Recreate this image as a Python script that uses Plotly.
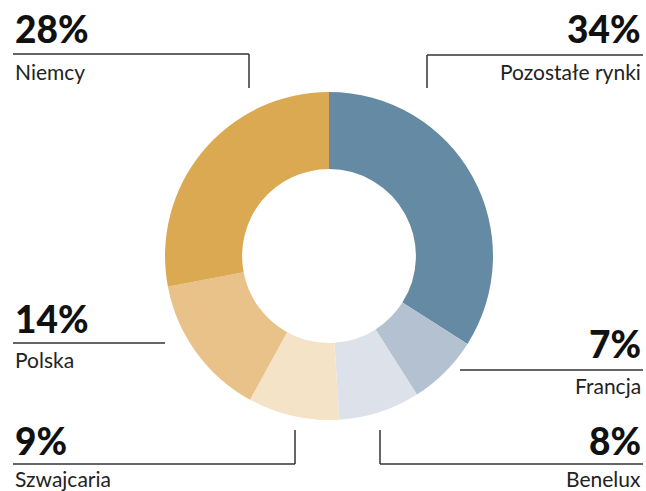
import plotly.graph_objects as go

labels = ["Pozostałe rynki", "Francja", "Benelux", "Szwajcaria", "Polska", "Niemcy"]
values = [34, 7, 8, 9, 14, 28]
colors = ["#648BA3", "#B3C1D1", "#DDE2EA", "#F5E3C8", "#E9C289", "#DBA952"]

W, H = 646, 491
cx, cy, R = 329, 256, 164

fig = go.Figure()
fig.add_trace(go.Pie(
    labels=labels, values=values, sort=False, direction="clockwise", rotation=0,
    hole=0.53, textinfo="none", hoverinfo="label+percent",
    marker=dict(colors=colors, line=dict(width=0)),
    domain=dict(x=[(cx - R) / W, (cx + R) / W], y=[1 - (cy + R) / H, 1 - (cy - R) / H]),
    showlegend=False,
))

# label layout: (label, pct text, side, text x, pct center y, name center y, line y, line x0, x1, vertical (x, y_end) or None)
label_specs = [
    ("Niemcy", "28%", "left", 13, 28, 71, 54, 13, 249, (249, 88)),
    ("Pozostałe rynki", "34%", "right", 643, 28, 71, 55, 427, 643, (427, 88)),
    ("Polska", "14%", "left", 13, 318, 359, 343, 13, 165, None),
    ("Francja", "7%", "right", 643, 343, 385, 370, 460, 643, None),
    ("Szwajcaria", "9%", "left", 13, 440, 478, 464, 13, 295, (295, 430)),
    ("Benelux", "8%", "right", 643, 440, 478, 464, 380, 643, (380, 430)),
]

pct_font = dict(family="Lato", size=37, color="#111111", weight=900)
name_font = dict(family="Lato", size=21, color="#222222")

for name, pct, side, tx, py, ny, ly, x0, x1, vert in label_specs:
    fig.add_annotation(x=tx, y=py, xref="x", yref="y", text=pct, showarrow=False,
                       xanchor=side, yanchor="middle", font=pct_font)
    fig.add_annotation(x=tx, y=ny, xref="x", yref="y", text=name, showarrow=False,
                       xanchor=side, yanchor="middle", font=name_font)
    fig.add_shape(type="line", x0=x0, x1=x1, y0=ly, y1=ly, xref="x", yref="y",
                  line=dict(color="#333333", width=1.5))
    if vert:
        vx, vy = vert
        fig.add_shape(type="line", x0=vx, x1=vx, y0=ly, y1=vy, xref="x", yref="y",
                      line=dict(color="#333333", width=1.5))

fig.update_layout(
    width=W, height=H, margin=dict(l=0, r=0, t=0, b=0),
    paper_bgcolor="white", plot_bgcolor="rgba(0,0,0,0)",
    xaxis=dict(range=[0, W], visible=False, fixedrange=True),
    yaxis=dict(range=[H, 0], visible=False, fixedrange=True),
)

fig.write_html("out.html", config={"displayModeBar": False},
               post_script="document.body.style.margin='0';document.body.style.overflow='hidden';")
